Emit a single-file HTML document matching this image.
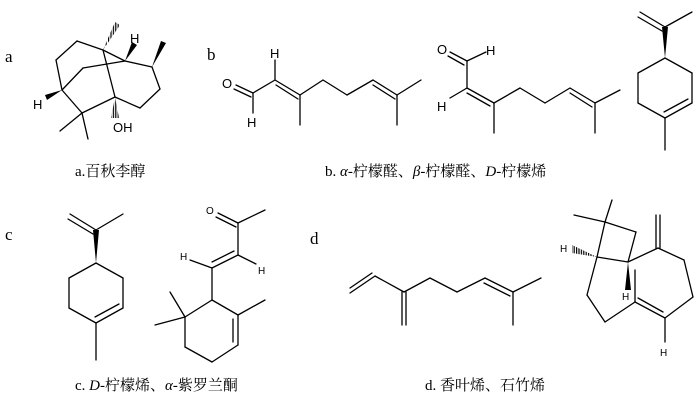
<!DOCTYPE html>
<html><head><meta charset="utf-8"><style>
html,body{margin:0;padding:0;background:#fff;}
svg{display:block;}
text{font-family:"Liberation Serif","Noto Serif CJK SC",serif;fill:#000;}
.h{font-family:"Liberation Sans",sans-serif;}
</style></head><body>
<svg width="700" height="403" viewBox="0 0 700 403" xmlns="http://www.w3.org/2000/svg">
<defs>
<pattern id="hp" width="2.4" height="2.4" patternUnits="userSpaceOnUse"><rect width="1.2" height="2.4" fill="#000"/></pattern>
</defs>
<g stroke="#000" stroke-width="1.3" fill="none" stroke-linecap="round">
<!-- a -->
<line x1="103" y1="50" x2="77" y2="41"/><line x1="77" y1="41" x2="56" y2="60"/><line x1="56" y1="60" x2="62" y2="90"/>
<line x1="62" y1="90" x2="82" y2="113"/><line x1="82" y1="113" x2="60" y2="131"/><line x1="82" y1="113" x2="88" y2="139"/>
<line x1="82" y1="113" x2="115" y2="97"/><line x1="103" y1="50" x2="115" y2="97"/>
<line x1="62" y1="90" x2="83" y2="68"/><line x1="83" y1="68" x2="125" y2="61"/><line x1="103" y1="50" x2="125" y2="61"/>
<line x1="125" y1="61" x2="152" y2="67"/><line x1="152" y1="67" x2="160" y2="89"/><line x1="160" y1="89" x2="140" y2="108"/><line x1="140" y1="108" x2="115" y2="97"/>
<!-- b alpha -->
<line x1="236" y1="85" x2="253" y2="93"/><line x1="234" y1="89" x2="251" y2="97"/>
<line x1="253" y1="93" x2="253" y2="113"/><line x1="253" y1="93" x2="275" y2="80"/><line x1="275" y1="80" x2="275" y2="60"/>
<line x1="275" y1="80" x2="300" y2="95"/><line x1="276" y1="85" x2="298" y2="99"/>
<line x1="300" y1="95" x2="300" y2="125"/><line x1="300" y1="95" x2="323" y2="80"/><line x1="323" y1="80" x2="347" y2="95"/><line x1="347" y1="95" x2="373" y2="80"/>
<line x1="373" y1="80" x2="397" y2="95"/><line x1="373" y1="85" x2="395" y2="99"/>
<line x1="397" y1="95" x2="421" y2="80"/><line x1="397" y1="95" x2="397" y2="125"/>
<!-- b beta -->
<line x1="450" y1="52" x2="467" y2="61"/><line x1="448" y1="56" x2="464" y2="65"/>
<line x1="467" y1="61" x2="486" y2="52"/><line x1="467" y1="61" x2="467" y2="88"/><line x1="467" y1="88" x2="450" y2="98"/>
<line x1="467" y1="88" x2="494" y2="103"/><line x1="467" y1="93" x2="490" y2="106"/>
<line x1="494" y1="103" x2="494" y2="133"/><line x1="494" y1="103" x2="520" y2="88"/><line x1="520" y1="88" x2="545" y2="103"/><line x1="545" y1="103" x2="570" y2="88"/>
<line x1="570" y1="88" x2="595" y2="103"/><line x1="570" y1="93" x2="592" y2="107"/>
<line x1="595" y1="103" x2="620" y2="90"/><line x1="595" y1="103" x2="595" y2="133"/>
<!-- b limonene -->
<line x1="640" y1="12" x2="665" y2="27"/><line x1="638" y1="17" x2="662" y2="31"/><line x1="665" y1="27" x2="692" y2="12"/>
<line x1="665" y1="58" x2="692" y2="73"/><line x1="692" y1="73" x2="692" y2="103"/><line x1="692" y1="103" x2="665" y2="118"/><line x1="688" y1="99" x2="664" y2="112"/>
<line x1="665" y1="118" x2="638" y2="103"/><line x1="638" y1="103" x2="638" y2="73"/><line x1="638" y1="73" x2="665" y2="58"/><line x1="665" y1="118" x2="665" y2="150"/>
<!-- c limonene -->
<line x1="70" y1="214" x2="96" y2="230"/><line x1="68" y1="219" x2="93" y2="234"/><line x1="96" y1="230" x2="123" y2="214"/>
<line x1="96" y1="263" x2="123" y2="278"/><line x1="123" y1="278" x2="123" y2="308"/><line x1="123" y1="308" x2="96" y2="323"/><line x1="119" y1="304" x2="95" y2="317"/>
<line x1="96" y1="323" x2="69" y2="308"/><line x1="69" y1="308" x2="69" y2="278"/><line x1="69" y1="278" x2="96" y2="263"/><line x1="96" y1="323" x2="96" y2="360"/>
<!-- c ionone -->
<line x1="218" y1="213" x2="238" y2="223"/><line x1="216" y1="217" x2="236" y2="227"/><line x1="238" y1="223" x2="265" y2="210"/>
<line x1="238" y1="223" x2="238" y2="255"/><line x1="238" y1="255" x2="212" y2="268"/><line x1="234" y1="251" x2="212" y2="262"/>
<line x1="238" y1="255" x2="256" y2="264"/><line x1="212" y1="268" x2="190" y2="260"/>
<line x1="212" y1="268" x2="212" y2="300"/><line x1="212" y1="300" x2="238" y2="315"/><line x1="238" y1="315" x2="265" y2="300"/>
<line x1="238" y1="315" x2="238" y2="345"/><line x1="233" y1="319" x2="233" y2="342"/><line x1="238" y1="345" x2="212" y2="362"/>
<line x1="212" y1="362" x2="185" y2="347"/><line x1="185" y1="347" x2="185" y2="317"/><line x1="185" y1="317" x2="212" y2="300"/>
<line x1="185" y1="317" x2="155" y2="325"/><line x1="185" y1="317" x2="170" y2="292"/>
<!-- d myrcene -->
<line x1="350" y1="293" x2="375" y2="276"/><line x1="350" y1="288" x2="372" y2="273"/>
<line x1="375" y1="276" x2="404" y2="292"/><line x1="402" y1="292" x2="402" y2="325"/><line x1="406" y1="292" x2="406" y2="325"/>
<line x1="404" y1="292" x2="430" y2="278"/><line x1="430" y1="278" x2="457" y2="292"/><line x1="457" y1="292" x2="485" y2="278"/>
<line x1="485" y1="278" x2="513" y2="292"/><line x1="484" y1="283" x2="510" y2="296"/>
<line x1="513" y1="292" x2="541" y2="278"/><line x1="513" y1="292" x2="513" y2="325"/>
<!-- d caryophyllene -->
<line x1="605" y1="222" x2="574" y2="215"/><line x1="605" y1="222" x2="612" y2="200"/>
<line x1="605" y1="222" x2="636" y2="232"/><line x1="636" y1="232" x2="628" y2="262"/><line x1="628" y1="262" x2="597" y2="257"/><line x1="597" y1="257" x2="605" y2="222"/>
<line x1="628" y1="262" x2="658" y2="248"/><line x1="656" y1="248" x2="656" y2="215"/><line x1="660" y1="248" x2="660" y2="215"/>
<line x1="658" y1="248" x2="684" y2="260"/><line x1="684" y1="260" x2="693" y2="297"/><line x1="693" y1="297" x2="665" y2="318"/>
<line x1="665" y1="318" x2="635" y2="302"/><line x1="663" y1="312" x2="638" y2="298"/>
<line x1="665" y1="318" x2="665" y2="342"/><line x1="635" y1="302" x2="635" y2="270"/>
<line x1="635" y1="302" x2="605" y2="322"/><line x1="605" y1="322" x2="587" y2="295"/><line x1="587" y1="295" x2="597" y2="257"/>
</g>
<g fill="#000">
<polygon points="62,90 45,95 47,100"/>
<polygon points="125,61 132,42 137,45"/>
<polygon points="152,67 161,41 166,43"/>
<polygon points="665,58 662,27 668,27"/>
<polygon points="96,263 93,230 99,230"/>
<polygon points="628,262 625,290 631,290"/>
<polygon points="103,50 115,22 120,25" fill="url(#hp)"/>
<polygon points="115,97 111,118 119,118" fill="url(#hp)"/>
<polygon points="597,257 572,245 572,253" fill="url(#hp)"/>
</g>
<g class="h" font-size="13">
<text x="33" y="109" class="h">H</text>
<text x="130" y="43" class="h">H</text>
<text x="113" y="132" class="h">OH</text>
<text x="222" y="88" class="h">O</text>
<text x="247" y="127" class="h">H</text>
<text x="270" y="58" class="h">H</text>
<text x="437" y="54" class="h">O</text>
<text x="486" y="55" class="h">H</text>
<text x="437" y="111" class="h">H</text>
</g>
<g class="h" font-size="10">
<text x="206" y="214" class="h">O</text>
<text x="180" y="260" class="h">H</text>
<text x="258" y="274" class="h">H</text>
<text x="560" y="252" class="h">H</text>
<text x="622" y="300" class="h">H</text>
<text x="660" y="356" class="h">H</text>
</g>
<g font-size="17">
<text x="5" y="62">a</text><text x="207" y="60">b</text><text x="5" y="240">c</text><text x="310" y="244">d</text>
</g>
<g font-size="15">
<text x="75" y="176">a.百秋李醇</text>
<text x="325" y="176">b. <tspan font-style="italic">α</tspan>-柠檬醛、<tspan font-style="italic">β</tspan>-柠檬醛、<tspan font-style="italic">D</tspan>-柠檬烯</text>
<text x="75" y="390">c. <tspan font-style="italic">D</tspan>-柠檬烯、<tspan font-style="italic">α</tspan>-紫罗兰酮</text>
<text x="425" y="390">d. 香叶烯、石竹烯</text>
</g>
</svg>
</body></html>
